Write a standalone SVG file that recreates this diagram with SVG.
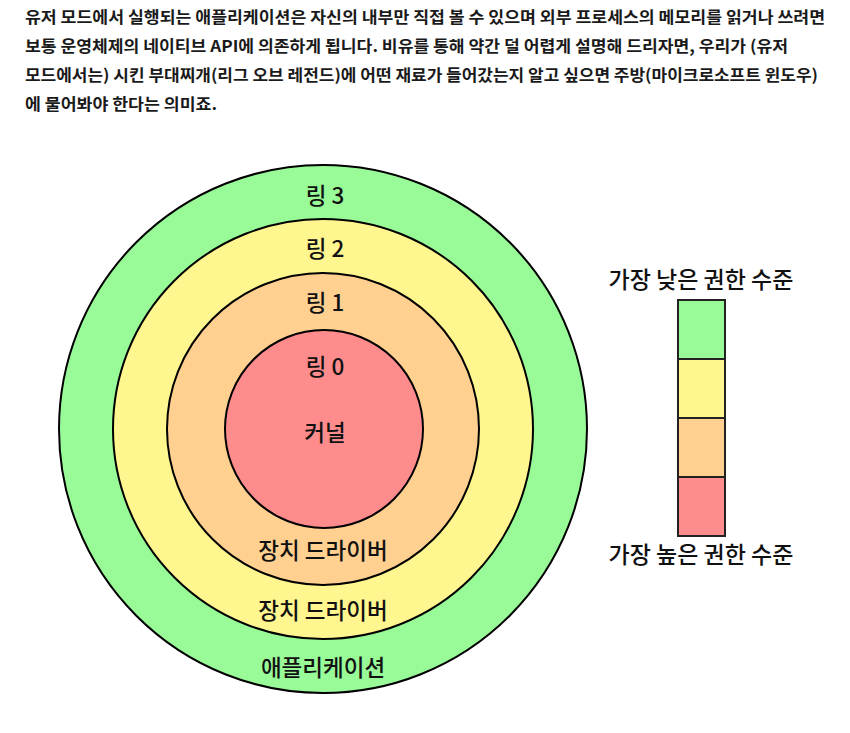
<svg xmlns="http://www.w3.org/2000/svg" width="850" height="733" viewBox="0 0 850 733">
<style>
.para{font-family:"Noto Sans CJK KR","Noto Sans",sans-serif;font-size:16px;font-weight:bold;fill:#1a1a1a}
.lbl{font-family:"Noto Sans CJK KR","Noto Sans",sans-serif;font-size:22.5px;font-weight:500;fill:#111;text-anchor:middle;dominant-baseline:central}
.leg{font-family:"Noto Sans CJK KR","Noto Sans",sans-serif;font-size:23px;font-weight:500;fill:#111;text-anchor:middle;dominant-baseline:central}
.ring{stroke:#000;stroke-width:2}
.box{stroke:#222;stroke-width:2}
</style>
<rect width="850" height="733" fill="#fff"/>
<g id="paragraph">
<text class="para" x="25" y="23" textLength="800" lengthAdjust="spacingAndGlyphs">유저 모드에서 실행되는 애플리케이션은 자신의 내부만 직접 볼 수 있으며 외부 프로세스의 메모리를 읽거나 쓰려면</text>
<text class="para" x="25" y="52" textLength="763" lengthAdjust="spacingAndGlyphs">보통 운영체제의 네이티브 API에 의존하게 됩니다. 비유를 통해 약간 덜 어렵게 설명해 드리자면, 우리가 (유저</text>
<text class="para" x="25" y="81" textLength="793" lengthAdjust="spacingAndGlyphs">모드에서는) 시킨 부대찌개(리그 오브 레전드)에 어떤 재료가 들어갔는지 알고 싶으면 주방(마이크로소프트 윈도우)</text>
<text class="para" x="25" y="110" textLength="192" lengthAdjust="spacingAndGlyphs">에 물어봐야 한다는 의미죠.</text>
</g>
<g id="ring3"><circle class="ring" cx="323" cy="429" r="264" fill="#98fb98"/></g>
<g id="ring2"><circle class="ring" cx="323" cy="429" r="210" fill="#fff68f"/></g>
<g id="ring1"><circle class="ring" cx="323" cy="429" r="156" fill="#ffd08f"/></g>
<g id="ring0"><circle class="ring" cx="324" cy="429" r="99" fill="#ff8c8c"/></g>
<g id="labels">
<text class="lbl" x="325" y="194">링 3</text>
<text class="lbl" x="325" y="247">링 2</text>
<text class="lbl" x="325" y="301">링 1</text>
<text class="lbl" x="325" y="365">링 0</text>
<text class="lbl" x="325" y="431">커널</text>
<text class="lbl" x="323" y="549">장치 드라이버</text>
<text class="lbl" x="323" y="609">장치 드라이버</text>
<text class="lbl" x="323" y="666">애플리케이션</text>
</g>
<g id="legend">
<text class="leg" x="701" y="278">가장 낮은 권한 수준</text>
<rect class="box" x="678" y="300" width="47" height="59" fill="#98fb98"/>
<rect class="box" x="678" y="359" width="47" height="59" fill="#fff68f"/>
<rect class="box" x="678" y="418" width="47" height="59" fill="#ffd08f"/>
<rect class="box" x="678" y="477" width="47" height="59" fill="#ff8c8c"/>
<text class="leg" x="701" y="553">가장 높은 권한 수준</text>
</g>
</svg>
